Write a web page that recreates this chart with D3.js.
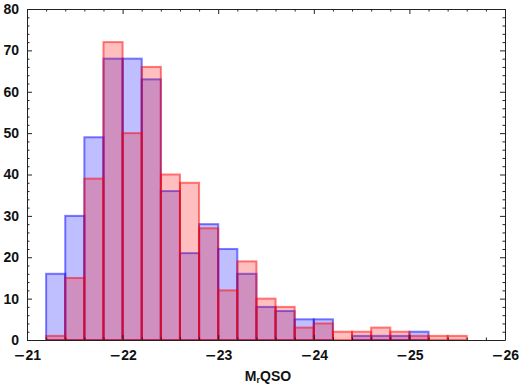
<!DOCTYPE html>
<html>
<head>
<meta charset="utf-8">
<script src="https://cdn.jsdelivr.net/npm/d3@7"></script>
<style>
  body { margin: 0; background: #fff; }
  .tick text { font-family: "Liberation Sans", Arial, sans-serif; font-weight: bold; font-size: 14px; fill: #111; }
  .tick text .minus { font-family: "DejaVu Sans", sans-serif; font-weight: bold; }
  .axis path, .axis line { stroke: #222; }
</style>
</head>
<body>
<script>
// histogram bins (left edges), width 0.2 mag
var binStart = [-21.2, -21.4, -21.6, -21.8, -22.0, -22.2, -22.4, -22.6, -22.8, -23.0, -23.2,
                -23.4, -23.6, -23.8, -24.0, -24.2, -24.4, -24.6, -24.8, -25.0, -25.2, -25.4];
var binWidth = 0.2;
var blueCounts = [16, 30, 49, 68, 68, 63, 36, 21, 28, 22, 16, 8, 7, 5, 5, 0, 1, 1, 1, 2, 0, 0];
var redCounts  = [1, 15, 39, 72, 50, 66, 40, 38, 27, 12, 19, 10, 8, 3, 4, 2, 2, 3, 2, 1, 1, 1];
var xTicks = [-21, -22, -23, -24, -25, -26];
var yTicks = [0, 10, 20, 30, 40, 50, 60, 70, 80];

var w = 523, h = 385;
var mLeft = 27, mRight = 505, mTop = 9, mBottom = 340;

var svg = d3.select("body").append("svg").attr("width", w).attr("height", h);

var x = d3.scaleLinear().domain([-21, -26]).range([mLeft, mRight]);
var y = d3.scaleLinear().domain([0, 80]).range([mBottom, mTop]);

function drawSeries(counts, col) {
  var data = binStart.map(function(s, i) { return {x0: s, x1: s - binWidth, n: counts[i]}; })
    .filter(function(d) { return d.n > 0; });
  svg.append("g").selectAll("rect").data(data).enter().append("rect")
    .attr("x", function(d) { return x(d.x0); })
    .attr("width", function(d) { return x(d.x1) - x(d.x0); })
    .attr("y", function(d) { return y(d.n); })
    .attr("height", function(d) { return y(0) - y(d.n); })
    .attr("fill", col)
    .attr("fill-opacity", 0.25)
    .attr("stroke", col)
    .attr("stroke-opacity", 0.5)
    .attr("stroke-width", 2);
}

drawSeries(blueCounts, "#0000ff");
drawSeries(redCounts, "#ff0000");

// minor ticks every 0.2 mag and every 2 counts
var xMinor = d3.range(-21, -26.01, -0.2).filter(function(v) { return Math.abs(v - Math.round(v)) > 1e-6; });
var yMinor = d3.range(0, 80.01, 2).filter(function(v) { return v % 10 !== 0; });

function axes(mk, scale, tr, major, minor, labels, pad) {
  var g = svg.append("g").attr("class", "axis").attr("transform", tr);
  g.call(mk(scale).tickValues(major).tickSizeInner(-5).tickSizeOuter(0).tickPadding(pad)
    .tickFormat(labels ? String : function() { return ""; }));
  var m = svg.append("g").attr("class", "axis").attr("transform", tr);
  m.call(mk(scale).tickValues(minor).tickSizeInner(-2.5).tickSizeOuter(0)
    .tickFormat(function() { return ""; }));
  m.select(".domain").remove();
  return g;
}

var xa = axes(d3.axisBottom, x, "translate(0," + mBottom + ")", xTicks, xMinor, true, 10);
axes(d3.axisTop, x, "translate(0," + mTop + ")", xTicks, xMinor, false, 3);
axes(d3.axisLeft, y, "translate(" + mLeft + ",0)", yTicks, yMinor, true, 8);
axes(d3.axisRight, y, "translate(" + mRight + ",0)", yTicks, yMinor, false, 3);

// long minus like the original
xa.selectAll(".tick text").each(function(d) {
  var t = d3.select(this).text("");
  t.append("tspan").attr("class", "minus").text("\u2212");
  t.append("tspan").text(Math.abs(d));
});

svg.append("text")
  .attr("x", 268).attr("y", 381)
  .attr("text-anchor", "middle")
  .style("font-family", "Liberation Sans, Arial, sans-serif")
  .style("font-weight", "bold").style("font-size", "14px").style("fill", "#111")
  .html('M<tspan dy="2" font-size="9px">r</tspan><tspan dy="-2">QSO</tspan>');
</script>
</body>
</html>
